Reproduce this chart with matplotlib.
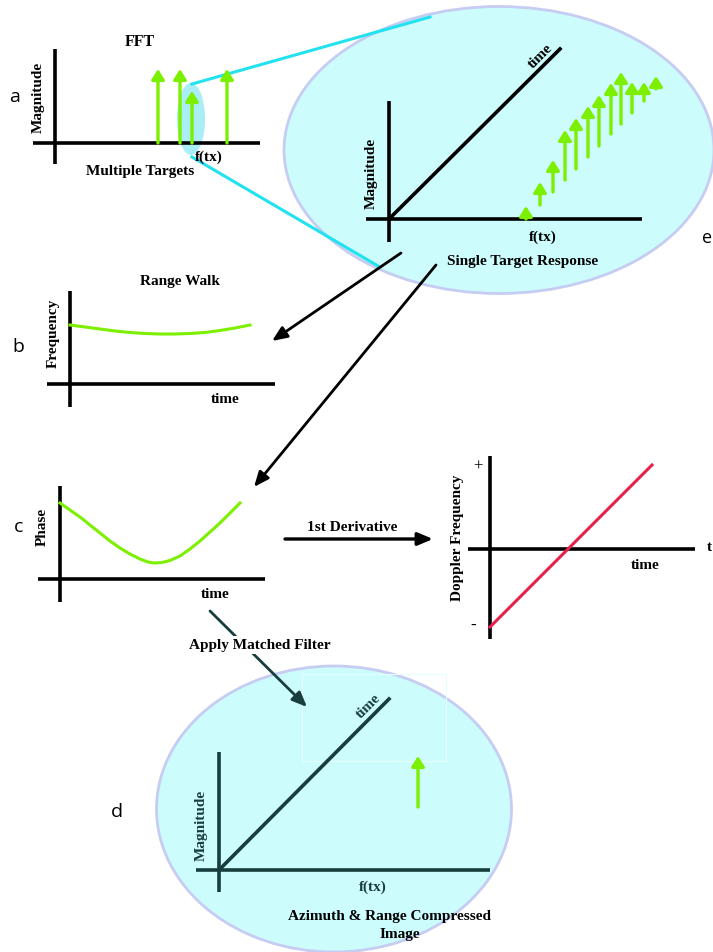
import numpy as np
import matplotlib
matplotlib.use("Agg")
import matplotlib.pyplot as plt
from matplotlib.patches import Ellipse, FancyArrowPatch, Rectangle
from matplotlib.transforms import Affine2D

# ---------------- data (panel units, origin at axis crossing, y up) ----------------
# (a) FFT of multiple targets
fft_freq = [103, 125, 137, 172]
fft_mag = [74, 74, 52, 74]

# (e) single target response: frequency bin, slow-time offsets and magnitudes
target_freq = 137
target_time = [0, 14, 27, 39, 50, 62, 73, 85, 95, 106, 118, 130]
target_mag = [13, 23, 32, 50, 51, 51, 51, 51, 52, 31, 19, 13]

# (b) range walk: frequency vs time
walk_time = [0, 15, 30, 45, 60, 75, 90, 105, 120, 135, 150, 165, 180]
walk_freq = [59, 57, 55, 53, 51.5, 50.5, 50, 50, 50.5, 51.5, 53.5, 56, 59]

# (c) phase history vs time
phase_time = [0, 10, 20, 30, 40, 50, 60, 70, 80, 88, 94, 102, 110, 120,
              130, 140, 150, 160, 170, 180]
phase_val = [76, 69, 62, 54, 46, 38, 31, 25, 20, 17, 16, 16.5, 18.5, 23,
             30, 38, 47, 56, 66, 76]

# Doppler frequency (1st derivative of phase)
doppler_time = [0, 162]
doppler_freq = [-78, 84]

# (d) compressed target
comp_freq = 136
comp_time = 63
comp_mag = 51

# ---------------- styling ----------------
GREEN = "#7cf000"
RED = "#e8204c"
CYAN = "#22e2f0"
FILL = "#ccfcfc"
EDGE = "#c6ccf2"
TEAL = "#173d3d"
SERIF = ["Liberation Serif", "DejaVu Serif"]
SANS = ["Open Sans", "DejaVu Sans"]

W, H = 713, 953
fig = plt.figure(figsize=(W / 100, H / 100), dpi=100)
ax = fig.add_axes([0, 0, 1, 1])
ax.set_xlim(0, W)
ax.set_ylim(H, 0)
ax.axis("off")


def panel(ox, oy):
    return Affine2D().scale(1, -1).translate(ox, oy) + ax.transData


def arrow(tr, p0, p1, color, lw, hl=0.9, hw=0.38, ms=10, z=4):
    a = FancyArrowPatch(p0, p1, transform=tr,
                        arrowstyle=f"-|>,head_length={hl},head_width={hw}",
                        color=color, lw=lw, mutation_scale=ms,
                        shrinkA=0, shrinkB=0, zorder=z)
    ax.add_patch(a)


def green_arrow(tr, p0, p1):
    arrow(tr, p0, p1, GREEN, 2.4, hl=0.6, hw=0.38, ms=10)


def axes_lines(tr, xr, yr, color="black", lw=2.6, z=3):
    ax.plot(xr, [0, 0], color=color, lw=lw, transform=tr, zorder=z,
            solid_capstyle="butt")
    ax.plot([0, 0], yr, color=color, lw=lw, transform=tr, zorder=z,
            solid_capstyle="butt")


def label(x, y, s, size=11, rot=0, color="black", ha="center", va="center",
          family=SERIF, weight="bold", **kw):
    ax.text(x, y, s, fontsize=size, rotation=rot, color=color, ha=ha, va=va,
            family=family, fontweight=weight, rotation_mode="anchor", **kw)


# ---------------- (a) FFT ----------------
ta = panel(55, 144)
ax.add_patch(Ellipse((191, 120), 28, 72, facecolor="#a8eef4",
                     edgecolor="none", zorder=1))
axes_lines(ta, [-22, 205], [-21, 94])
for f, m in zip(fft_freq, fft_mag):
    green_arrow(ta, (f, 0), (f, m))
label(140, 42, "FFT", size=11.5)
label(38, 97, "Magnitude", rot=90)
label(209, 157, "f(tx)")
label(140, 172, "Multiple Targets")
label(15, 97, "a", size=14, family=SANS, weight="normal")

# ---------------- (e) single target response ----------------
ax.add_patch(Ellipse((499, 151), 430, 287, facecolor=FILL, edgecolor=EDGE,
                     lw=2, zorder=0.5))
ax.plot([192, 430], [85, 18], color=CYAN, lw=2.2, zorder=2)
ax.plot([192, 378], [158, 267], color=CYAN, lw=2.2, zorder=2)

te = panel(389, 220)
axes_lines(te, [-23, 253], [-23, 118])
ax.plot([0, 171], [0, 170], color="black", lw=2.6, transform=te, zorder=3)
for t, m in zip(target_time, target_mag):
    green_arrow(te, (target_freq + t, t), (target_freq + t, t + m))
label(540, 56, "time", rot=45)
label(371, 173, "Magnitude", rot=90)
label(543, 237, "f(tx)")
label(523, 262, "Single Target Response")
label(712, 238, "e", ha="right", family=SANS, weight="normal", size=13)

# ---------------- (b) range walk ----------------
tb = panel(70, 385)
axes_lines(tb, [-23, 205], [-23, 93])
ax.plot(walk_time, walk_freq, color=GREEN, lw=2.2, transform=tb, zorder=4)
label(180, 282, "Range Walk")
label(53, 333, "Frequency", rot=90)
label(225, 400, "time")
label(18, 347, "b", size=14, family=SANS, weight="normal")

# ---------------- (c) phase ----------------
tc = panel(60, 580)
axes_lines(tc, [-22, 205], [-23, 93])
ax.plot(phase_time, phase_val, color=GREEN, lw=2.2, transform=tc, zorder=4,
        solid_joinstyle="round")
label(42, 527, "Phase", rot=90)
label(215, 595, "time")
label(19, 527, "c", size=14, family=SANS, weight="normal")

# flow arrows out of the single-target ellipse
arrow(ax.transData, (401, 254), (272, 342), "black", 2)
arrow(ax.transData, (436, 266), (254, 488), "black", 2)

# ---------------- Doppler frequency ----------------
arrow(ax.transData, (285, 540), (433, 540), "black", 2.4)
label(352, 528, "1st Derivative")

tdp = panel(490, 550)
axes_lines(tdp, [-22, 205], [-90, 93])
ax.plot(doppler_time, doppler_freq, color=RED, lw=2.2, transform=tdp, zorder=4)
label(457, 538, "Doppler Frequency", rot=90)
label(478, 467, "+", weight="normal", size=12)
label(473, 626, "-", size=12)
label(645, 566, "time")
label(712, 548, "t", ha="right")

# ---------------- (d) compressed image ----------------
ax.add_patch(Ellipse((334, 810), 355, 286, facecolor=FILL, edgecolor=EDGE,
                     lw=2, zorder=0.5))
ax.add_patch(Rectangle((302, 675), 144, 87, facecolor="none",
                       edgecolor="#e6fefe", lw=0.8, zorder=0.8))
arrow(ax.transData, (210, 612), (307, 708), TEAL, 2)
label(260, 646, "Apply Matched Filter", zorder=6,
      bbox=dict(facecolor="white", edgecolor="none", pad=1.5))

td = panel(219, 871)
axes_lines(td, [-23, 271], [-22, 118], color=TEAL)
ax.plot([0, 170], [0, 171], color=TEAL, lw=2.6, transform=td, zorder=3)
green_arrow(td, (comp_freq + comp_time, comp_time),
            (comp_freq + comp_time, comp_time + comp_mag))
label(368, 706, "time", rot=45, color=TEAL)
label(201, 825, "Magnitude", rot=90, color=TEAL)
label(373, 887, "f(tx)", color=TEAL)
label(390, 917, "Azimuth & Range Compressed")
label(400, 935, "Image")
label(117, 812, "d", size=14, family=SANS, weight="normal")

fig.savefig("out.png", dpi=100)
